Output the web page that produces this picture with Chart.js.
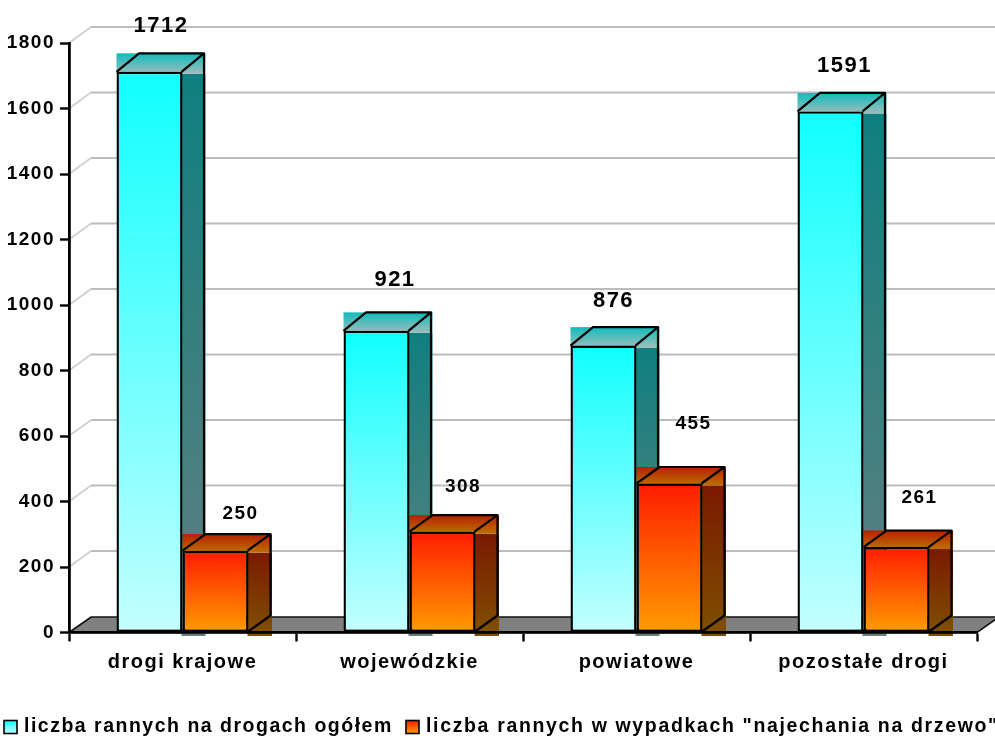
<!DOCTYPE html>
<html lang="pl">
<head>
<meta charset="utf-8">
<title>Liczba rannych</title>
<script src="https://cdn.jsdelivr.net/npm/chart.js@4"></script>
<style>
html,body{margin:0;padding:0;background:#fff;overflow:hidden}
canvas{display:block}
</style>
</head>
<body>
<canvas id="c" width="995" height="738"></canvas>
<script>
const categories = ["drogi krajowe", "wojewódzkie", "powiatowe", "pozostałe drogi"];
const seriesNames = ["liczba rannych na drogach ogółem", "liczba rannych w wypadkach \"najechania na drzewo\""];
const totalInjured = [1712, 921, 876, 1591];
const treeCollisionInjured = [250, 308, 455, 261];
const yMax = 1800;
const yStep = 200;

const FONT = '"Liberation Sans", Arial, sans-serif';
const SPACING = '1.5px';

const looks = [
  { front: ['#10ffff', '#c4ffff'], side: ['#0f7f7f', '#628080'], top: ['#10bcbc', '#9fbcbc'],
    depthX: 22.5, depthY: 18.5, labelFont: 22, legendSpacing: '1.5px',
    nudgeX: [11.5, 18.5, 10, 14], nudgeY: [46, 51, 45, 46] },
  { front: ['#ff1c00', '#ff9c00'], side: ['#7a1800', '#7f4f00'], top: ['#b82000', '#bb7000'],
    depthX: 23, depthY: 16.5, labelFont: 19, legendSpacing: '1.65px',
    nudgeX: [25, 20.5, 24, 23], nudgeY: [37, 45, 60, 49] }
];
const wall = { depthX: 22, depthY: 15.5, gridColor: '#bcbcbc', slantColor: '#cfcfcf', floor: '#808080' };

function vGrad(ctx, y0, y1, colors) {
  const g = ctx.createLinearGradient(0, y0, 0, y1);
  g.addColorStop(0, colors[0]);
  g.addColorStop(1, colors[1]);
  return g;
}

const scene = {
  id: 'scene',
  beforeLayout(chart) { chart.ctx.letterSpacing = SPACING; },
  beforeDraw(chart) {
    const { ctx, chartArea: a, scales: { y } } = chart;
    ctx.letterSpacing = SPACING;
    ctx.save();
    ctx.fillStyle = '#fff';
    ctx.fillRect(0, 0, chart.width, chart.height);
    y.ticks.forEach((t, i) => {
      if (t.value === 0) return;
      const p = y.getPixelForTick(i);
      const yb = p - 16;
      ctx.lineWidth = 1.8;
      ctx.strokeStyle = wall.slantColor;
      ctx.beginPath(); ctx.moveTo(a.left, p); ctx.lineTo(a.left + wall.depthX, yb); ctx.stroke();
      ctx.strokeStyle = wall.gridColor;
      ctx.beginPath(); ctx.moveTo(a.left + wall.depthX, yb); ctx.lineTo(a.right + wall.depthX, yb); ctx.stroke();
    });
    const b = y.getPixelForValue(0);
    ctx.beginPath();
    ctx.moveTo(a.left, b);
    ctx.lineTo(a.left + wall.depthX, b - wall.depthY);
    ctx.lineTo(a.right + wall.depthX, b - wall.depthY);
    ctx.lineTo(a.right, b);
    ctx.closePath();
    ctx.fillStyle = wall.floor;
    ctx.fill();
    ctx.lineWidth = 1.6;
    ctx.strokeStyle = '#111';
    ctx.stroke();
    ctx.restore();
  },
  beforeDatasetsDraw(chart) {
    const { ctx } = chart;
    ctx.save();
    chart.data.datasets.forEach((ds, index) => {
      const look = looks[index];
      const dx = look.depthX, dy = look.depthY;
      chart.getDatasetMeta(index).data.forEach(bar => {
        const L = bar.x - bar.width / 2, R = bar.x + bar.width / 2 - 1, T = bar.y, B = bar.base;
        // side face
        ctx.fillStyle = vGrad(ctx, T, B, look.side);
        ctx.fillRect(R, T + 2, dx + 1.5, B - T + 2);
        // top face with its box
        ctx.fillStyle = vGrad(ctx, T - dy, T + 2, look.top);
        ctx.fillRect(L, T - dy, R + dx + 1.5 - L, dy + 2);
        ctx.strokeStyle = '#000';
        ctx.lineWidth = 2.2;
        ctx.lineJoin = 'round';
        ctx.beginPath();
        ctx.moveTo(L, T);
        ctx.lineTo(L + dx, T - dy);
        ctx.lineTo(R + dx, T - dy);
        ctx.lineTo(R + dx, B - dy);
        ctx.lineTo(R, B);
        ctx.moveTo(R + dx, T - dy);
        ctx.lineTo(R, T);
        ctx.stroke();
      });
    });
    ctx.restore();
  },
  afterDatasetsDraw(chart) {
    const { ctx } = chart;
    ctx.save();
    ctx.textAlign = 'center';
    ctx.textBaseline = 'middle';
    ctx.fillStyle = '#000';
    chart.data.datasets.forEach((ds, i) => {
      const look = looks[i];
      ctx.font = 'bold ' + look.labelFont + 'px ' + FONT;
      chart.getDatasetMeta(i).data.forEach((bar, j) => {
        ctx.fillText(String(ds.data[j]), bar.x + look.nudgeX[j], bar.y - look.nudgeY[j]);
      });
    });
    ctx.restore();
  },
  afterDraw(chart) {
    const { ctx } = chart;
    const swatchX = [4, 406];
    const textX = [24, 426];
    const yMid = 727;
    ctx.save();
    ctx.font = 'bold 19.5px ' + FONT;
    ctx.textBaseline = 'middle';
    ctx.textAlign = 'left';
    chart.data.datasets.forEach((ds, i) => {
      ctx.fillStyle = vGrad(ctx, yMid - 6, yMid + 6, looks[i].front);
      ctx.fillRect(swatchX[i], yMid - 6.5, 13, 13);
      ctx.strokeStyle = '#000';
      ctx.lineWidth = 1.6;
      ctx.strokeRect(swatchX[i], yMid - 6.5, 13, 13);
      ctx.fillStyle = '#000';
      ctx.letterSpacing = looks[i].legendSpacing;
      ctx.fillText(ds.label, textX[i], yMid);
    });
    ctx.restore();
  }
};

function frontFill(i) {
  return c => {
    const y = c.chart.scales.y;
    if (c.type !== 'data' || !y) return looks[i].front[0];
    const t = y.getPixelForValue(c.dataset.data[c.dataIndex]);
    const b = y.getPixelForValue(0);
    if (!Number.isFinite(t) || !Number.isFinite(b)) return looks[i].front[0];
    return vGrad(c.chart.ctx, t, b, looks[i].front);
  };
}

new Chart(document.getElementById('c'), {
  type: 'bar',
  data: {
    labels: categories,
    datasets: [
      { label: seriesNames[0], data: totalInjured, backgroundColor: frontFill(0), borderColor: '#000', borderWidth: 2.4, borderSkipped: false },
      { label: seriesNames[1], data: treeCollisionInjured, backgroundColor: frontFill(1), borderColor: '#000', borderWidth: 2.4, borderSkipped: false }
    ]
  },
  plugins: [scene],
  options: {
    responsive: false,
    animation: false,
    devicePixelRatio: 1,
    layout: { padding: { left: 0, right: 18, top: 43, bottom: 65.5 } },
    plugins: { legend: { display: false }, tooltip: { enabled: false }, title: { display: false } },
    datasets: { bar: { categoryPercentage: 132 / 227, barPercentage: 1 } },
    scales: {
      x: {
        afterFit(s) { s.height = 40; s.paddingLeft = 0; s.paddingRight = 0; },
        grid: { drawOnChartArea: false, color: '#000', tickLength: 9, tickWidth: 2.4 },
        border: { color: '#000', width: 2.8, z: 2 },
        ticks: { color: '#000', padding: 9, maxRotation: 0, font: { family: FONT, size: 20, weight: 'bold' } }
      },
      y: {
        min: 0, max: yMax,
        afterFit(s) { s.width = 69; s.paddingTop = 0; s.paddingBottom = 0; },
        grid: { drawOnChartArea: false, color: '#000', tickLength: 9, tickWidth: 2.4 },
        border: { color: '#000', width: 2.8 },
        ticks: { stepSize: yStep, color: '#000', padding: 5, callback: v => String(v), font: { family: FONT, size: 19, weight: 'bold' } }
      }
    }
  }
});
</script>
</body>
</html>
